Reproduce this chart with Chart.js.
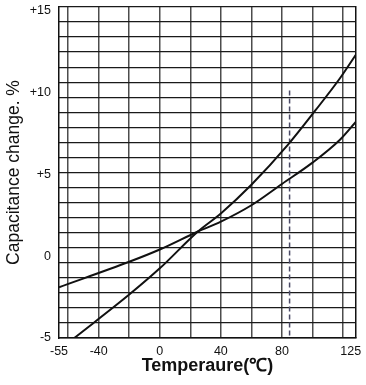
<!DOCTYPE html>
<html>
<head>
<meta charset="utf-8">
<script src="https://cdn.jsdelivr.net/npm/chart.js@4.4.1/dist/chart.umd.min.js"></script>
<style>
  html, body { margin: 0; padding: 0; background: #fff; }
  #wrap { width: 366px; height: 385px; position: relative; }
</style>
</head>
<body>
<div id="wrap"><canvas id="capChart"></canvas></div>
<script>
// ── Data ──
// The drawing's left edge is printed as -55, its grid runs linearly from about -66
const xMin = -66;
const xMax = 128.5;
const yMin = -5;
const yMax = 15.2;

const xTickValues = [-66, -60, -40, -20, 0, 20, 40, 60, 80, 100, 120, 125];
const xTickLabels = ['-55', '', '-40', '', '0', '', '40', '', '80', '', '', '125'];
const yTickValues = [-5, 0, 5, 10, 15];
const yTickLabels = ['-5', '0', '+5', '+10', '+15'];
const hGridLines = 22;   // horizontal rulings of the paper, not tied to the labels

// flatter curve
const tempA = [-66, -20, 0, 25, 40, 60, 80, 100, 118, 128.5];
const capA  = [-1.9, -0.35, 0.4, 1.5, 2.1, 3.1, 4.4, 5.7, 7.1, 8.2];

// steeper curve
const tempB = [-56, -20, 0, 25, 40, 60, 84, 102, 118, 128.5];
const capB  = [-5, -2.35, -0.75, 1.5, 2.6, 4.35, 6.8, 8.9, 10.85, 12.3];

// dashed marker
const markerTemp = [85, 85];
const markerCap  = [10.1, -5];

const toPts = (xs, ys) => xs.map((x, i) => ({ x: x, y: ys[i] }));

const font = 'Arial, "Liberation Sans", Helvetica, sans-serif';

const curve = (label, xs, ys) => ({
  label: label,
  data: toPts(xs, ys),
  showLine: true,
  borderColor: '#111',
  borderWidth: 2,
  pointRadius: 0,
  tension: 0.4,
  cubicInterpolationMode: 'monotone',
  fill: false
});

// labels may hang outside the plot, like on the sheet
const noEdgePad = s => {
  s.paddingTop = 0; s.paddingBottom = 0;
  s.paddingLeft = 0; s.paddingRight = 0;
};

new Chart(document.getElementById('capChart'), {
  type: 'scatter',
  data: {
    datasets: [
      curve('A', tempA, capA),
      curve('B', tempB, capB),
      {
        label: 'marker',
        data: toPts(markerTemp, markerCap),
        showLine: true,
        borderColor: '#4a4a66',
        borderWidth: 1.5,
        borderDash: [5, 3],
        pointRadius: 0
      }
    ]
  },
  options: {
    responsive: true,
    maintainAspectRatio: false,
    animation: false,
    layout: { padding: { top: 7, right: 10, left: 0, bottom: 0 } },
    plugins: { legend: { display: false }, tooltip: { enabled: false } },
    scales: {
      x: {
        type: 'linear',
        min: xMin,
        max: xMax,
        afterBuildTicks: s => { s.ticks = xTickValues.map(v => ({ value: v })); },
        afterFit: s => { s.height = 47; noEdgePad(s); },
        ticks: {
          autoSkip: false,
          maxRotation: 0,
          padding: 6,
          color: '#111',
          font: { family: font, size: 12.5 },
          callback: (v, i) => xTickLabels[i]
        },
        grid: {
          drawTicks: false,
          lineWidth: 1.5,
          color: c => (c.tick && (c.tick.value === -66 || c.tick.value === 125)) ? 'rgba(0,0,0,0)' : '#4d4d4d'
        },
        border: { display: true, color: '#111', width: 1.5 },
        title: {
          display: true,
          text: 'Temperaure(℃)',
          color: '#111',
          font: { family: font, size: 18, weight: 'bold' },
          padding: { top: 0, bottom: 8 }
        }
      },
      y: {
        type: 'linear',
        position: 'left',
        min: yMin,
        max: yMax,
        afterBuildTicks: s => { s.ticks = yTickValues.map(v => ({ value: v })); },
        afterFit: s => { s.width = 59; noEdgePad(s); },
        ticks: {
          padding: 8,
          color: '#111',
          font: { family: font, size: 12.5 },
          callback: (v, i) => yTickLabels[i]
        },
        grid: { display: false, drawTicks: false },
        border: { display: true, color: '#111', width: 1.5 },
        title: {
          display: true,
          text: 'Capacitance change. %',
          color: '#111',
          font: { family: font, size: 17.5 },
          padding: { top: 4, bottom: 0 }
        }
      },
      yg: {
        type: 'linear',
        position: 'right',
        min: 0,
        max: hGridLines,
        ticks: { display: false, stepSize: 1 },
        afterFit: s => { s.width = 0; noEdgePad(s); },
        grid: { drawTicks: false, color: '#1a1a1a', lineWidth: 1.3 },
        border: { display: true, color: '#111', width: 1.5 }
      }
    }
  }
});
</script>
</body>
</html>
